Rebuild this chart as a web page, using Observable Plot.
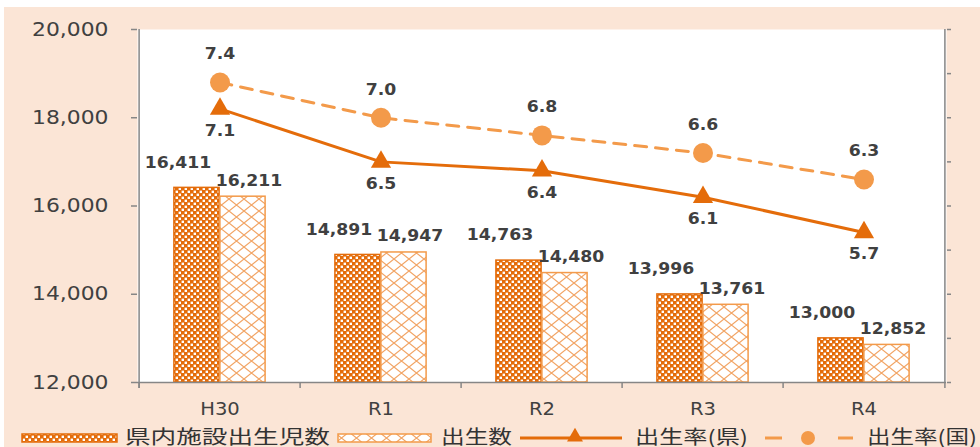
<!DOCTYPE html>
<html>
<head>
<meta charset="utf-8">
<script src="https://cdn.jsdelivr.net/npm/d3@7"></script>
<script src="https://cdn.jsdelivr.net/npm/@observablehq/plot@0.6"></script>
<style>
  html, body { margin: 0; padding: 0; background: #ffffff; overflow: hidden; }
  #wrap { position: absolute; left: 4px; top: 7px; width: 976px; height: 440px; background: #fbe5d6; }
  #wrap svg { display: block; }
  #legend { position: absolute; left: 0; top: 413px; }
</style>
</head>
<body>
<div id="wrap"></div>
<script>
// Births by year: counts on the left axis, birth rates on the right axis
const categories = ["H30", "R1", "R2", "R3", "R4"];
const birthsInFacility = [16411, 14891, 14763, 13996, 13000];
const births = [16211, 14947, 14480, 13761, 12852];
const ratePref = [7.1, 6.5, 6.4, 6.1, 5.7];
const rateNation = [7.4, 7.0, 6.8, 6.6, 6.3];
const countTicks = [12000, 14000, 16000, 18000, 20000];
const rateTicks = [4, 4.5, 5, 5.5, 6, 6.5, 7, 7.5, 8];
const seriesNames = ["県内施設出生児数", "出生数", "出生率(県)", "出生率(国)"];

// The right-hand rate axis (4.0–8.0) shares the plot with the count axis (12,000–20,000)
const rateToCount = r => 12000 + (r - 4) * 2000;

const rows = categories.map((c, i) => ({
  cat: c,
  facility: birthsInFacility[i],
  births: births[i],
  pref: ratePref[i],
  nation: rateNation[i]
}));

const W = 976, H = 413;
const M = {top: 22, right: 34, bottom: 38, left: 133};
const bw = (W - M.left - M.right) / categories.length;
const barW = 46;

const dark = "#e46c0a", light = "#f39a4a", ink = "#404040", axisGray = "#868686";
const fmt = d3.format(",");

function addPatterns(sel) {
  const defs = sel.append("defs");
  const p1 = defs.append("pattern").attr("id", "chk")
    .attr("patternUnits", "userSpaceOnUse").attr("width", 6).attr("height", 6);
  p1.append("rect").attr("width", 6).attr("height", 6).attr("fill", dark);
  p1.append("rect").attr("x", 0.6).attr("y", 0.6).attr("width", 2.4).attr("height", 2.4).attr("fill", "#fff");
  p1.append("rect").attr("x", 3.6).attr("y", 3.6).attr("width", 2.4).attr("height", 2.4).attr("fill", "#fff");
  const p2 = defs.append("pattern").attr("id", "lat")
    .attr("patternUnits", "userSpaceOnUse").attr("width", 15).attr("height", 12);
  p2.append("rect").attr("width", 15).attr("height", 12).attr("fill", "#fff");
  p2.append("path").attr("d", "M0,0L15,12M15,0L0,12")
    .attr("stroke", "#f2a464").attr("stroke-width", 1.2).attr("fill", "none");
}

const patterns = () => {
  const g = d3.create("svg:g");
  addPatterns(g);
  return g.node();
};

const labelStyle = {fontSize: 15, fontWeight: "bold", fill: ink};

const chart = Plot.plot({
  width: W,
  height: H,
  marginTop: M.top,
  marginRight: M.right,
  marginBottom: M.bottom,
  marginLeft: M.left,
  style: {background: "transparent", fontFamily: "DejaVu Sans", color: ink, overflow: "visible"},
  x: {type: "band", domain: categories, padding: 0, axis: null},
  y: {domain: [12000, 20000], axis: null},
  marks: [
    patterns,
    Plot.frame({fill: "white", stroke: "none"}),
    // bars
    Plot.barY(rows, {x: "cat", y1: 12000, y2: "facility",
      insetLeft: bw / 2 - barW, insetRight: bw / 2,
      fill: "url(#chk)", stroke: dark, strokeWidth: 1.5}),
    Plot.barY(rows, {x: "cat", y1: 12000, y2: "births",
      insetLeft: bw / 2, insetRight: bw / 2 - barW,
      fill: "url(#lat)", stroke: light, strokeWidth: 1.5}),
    // axis lines
    Plot.ruleY([12000], {stroke: axisGray, strokeWidth: 1.5}),
    Plot.ruleX([categories[0]], {dx: -bw / 2, stroke: axisGray, strokeWidth: 1.5, insetBottom: -6}),
    Plot.ruleX([categories[categories.length - 1]], {dx: bw / 2, stroke: axisGray, strokeWidth: 1.5, insetBottom: -6}),
    // left count axis
    Plot.axisY(countTicks, {anchor: "left", tickSize: 6, tickPadding: 23, tickFormat: fmt,
      fontSize: 19, stroke: axisGray, fill: ink, strokeWidth: 1.5, label: null}),
    // right rate axis (ticks only)
    Plot.axisY(rateTicks.map(rateToCount), {anchor: "right", tickSize: 4, tickFormat: () => "",
      stroke: axisGray, strokeWidth: 1.5, label: null}),
    // category boundaries and labels
    Plot.axisX({anchor: "bottom", tickSize: 6, tickFormat: () => "", dx: -bw / 2,
      stroke: axisGray, strokeWidth: 1.5, label: null}),
    Plot.axisX({anchor: "bottom", tickSize: 0, tickPadding: 20, fontSize: 17, fill: ink, label: null}),
    // national rate
    Plot.line(rows, {x: "cat", y: d => rateToCount(d.nation), stroke: light, strokeWidth: 3,
      strokeDasharray: "12,9"}),
    Plot.dot(rows, {x: "cat", y: d => rateToCount(d.nation), r: 10, fill: light, stroke: "none"}),
    // prefecture rate
    Plot.line(rows, {x: "cat", y: d => rateToCount(d.pref), stroke: dark, strokeWidth: 3}),
    Plot.dot(rows, {x: "cat", y: d => rateToCount(d.pref), symbol: "triangle", r: 7.5, fill: dark, stroke: "none"}),
    // value labels
    Plot.text(rows, {x: "cat", y: "facility", text: d => fmt(d.facility), dx: -42, dy: -25, ...labelStyle}),
    Plot.text(rows, {x: "cat", y: "births", text: d => fmt(d.births), dx: 29, dy: -16, ...labelStyle}),
    Plot.text(rows, {x: "cat", y: d => rateToCount(d.nation), text: d => d.nation.toFixed(1), dy: -28, ...labelStyle}),
    Plot.text(rows, {x: "cat", y: d => rateToCount(d.pref), text: d => d.pref.toFixed(1), dy: 22, ...labelStyle})
  ]
});

// widen the lettering a little, scaling each label about its own anchor
function widen(textNode, k) {
  const x = +textNode.getAttribute("x") || 0;
  const y = +textNode.getAttribute("y") || 0;
  const t = textNode.getAttribute("transform") || "";
  textNode.setAttribute("transform", `${t} translate(${x},${y}) scale(${k},1) translate(${-x},${-y})`);
}
chart.querySelectorAll("text").forEach(t => widen(t, 1.15));

document.getElementById("wrap").appendChild(chart);

// legend
const legend = d3.select("#wrap").append("svg")
  .attr("id", "legend").attr("width", W).attr("height", 27)
  .style("overflow", "visible");
const ly = 17;
const legendText = (x, s, len) => {
  legend.append("text")
    .attr("x", x).attr("y", ly).attr("dy", "0.35em")
    .attr("font-family", "'Noto Sans CJK JP', sans-serif").attr("font-size", 19)
    .attr("textLength", len).attr("lengthAdjust", "spacingAndGlyphs")
    .attr("fill", "#333").text(s);
};
legend.append("rect").attr("x", 18).attr("y", ly - 3).attr("width", 95).attr("height", 8)
  .attr("fill", "url(#chk)").attr("stroke", dark).attr("stroke-width", 1.5);
legendText(121, seriesNames[0], 205);
legend.append("rect").attr("x", 334).attr("y", ly - 3).attr("width", 93).attr("height", 8)
  .attr("fill", "url(#lat)").attr("stroke", light).attr("stroke-width", 1.5);
legendText(437, seriesNames[1], 71);
legend.append("line").attr("x1", 516).attr("x2", 618).attr("y1", ly + 1).attr("y2", ly + 1)
  .attr("stroke", dark).attr("stroke-width", 3);
legend.append("path").attr("d", d3.symbol(d3.symbolTriangle, 110)())
  .attr("transform", `translate(571,${ly})`).attr("fill", dark);
legendText(631, seriesNames[2], 113);
legend.append("line").attr("x1", 761).attr("x2", 778).attr("y1", ly + 1).attr("y2", ly + 1)
  .attr("stroke", light).attr("stroke-width", 3);
legend.append("line").attr("x1", 834).attr("x2", 849).attr("y1", ly + 1).attr("y2", ly + 1)
  .attr("stroke", light).attr("stroke-width", 3);
legend.append("circle").attr("cx", 804).attr("cy", ly + 1).attr("r", 7).attr("fill", light);
legendText(863, seriesNames[3], 110);
</script>
</body>
</html>
